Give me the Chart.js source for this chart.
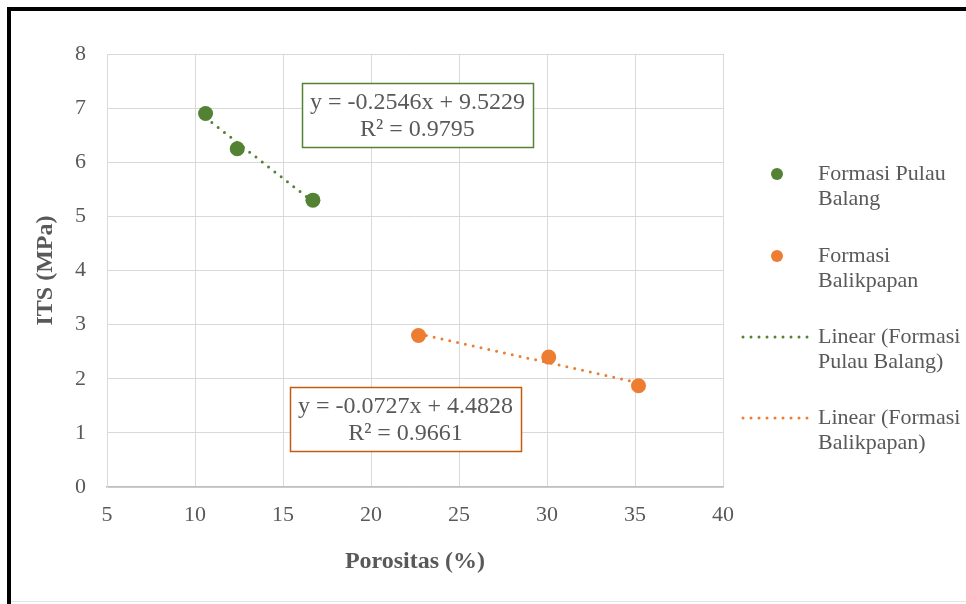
<!DOCTYPE html>
<html>
<head>
<meta charset="utf-8">
<title>ITS vs Porositas</title>
<script src="https://cdn.jsdelivr.net/npm/chart.js@4.4.1/dist/chart.umd.min.js"></script>
<style>
  html, body { margin: 0; padding: 0; background: #fff; }
  #wrap { position: relative; width: 966px; height: 604px; overflow: hidden; }
  #frame { position: absolute; left: 7px; top: 7px; width: 980px; height: 620px; border-left: 4px solid #000; border-top: 4px solid #000; }
  #base { position: absolute; left: 11px; right: 0; top: 601px; height: 1px; background: #e4e4e4; }
  canvas { position: absolute; left: 0; top: 0; }
</style>
</head>
<body>
<div id="wrap">
  <canvas id="itsChart" width="966" height="604"></canvas>
  <div id="frame"></div>
  <div id="base"></div>
</div>
<script>
// Data
const pulauBalangX = [10.6, 12.4, 16.7];
const pulauBalangY = [6.9, 6.25, 5.3];
const balikpapanX = [22.7, 30.1, 35.2];
const balikpapanY = [2.8, 2.4, 1.87];

const seriesNames = ['Formasi Pulau Balang', 'Formasi Balikpapan'];
const legendLines = [
  ['Formasi Pulau', 'Balang'],
  ['Formasi', 'Balikpapan'],
  ['Linear (Formasi', 'Pulau Balang)'],
  ['Linear (Formasi', 'Balikpapan)']
];

// Trendline equations as printed on the chart
const trendSlope = [-0.2546, -0.0727];
const trendIntercept = [9.5229, 4.4828];
const trendR2 = ['0.9795', '0.9661'];

const xTicks = [5, 10, 15, 20, 25, 30, 35, 40];
const yTicks = [0, 1, 2, 3, 4, 5, 6, 7, 8];

const GREEN = '#548235';
const ORANGE = '#ED7D31';
const TEXT = '#595959';
const FONT = "'Liberation Serif', 'Times New Roman', serif";

// two end points of a fitted line over the x range of its series
function trendPoints(xs, i) {
  const lo = Math.min(...xs), hi = Math.max(...xs);
  return [lo, hi].map(x => ({ x: x, y: trendSlope[i] * x + trendIntercept[i] }));
}

function equationText(i) {
  const sign = trendIntercept[i] < 0 ? '-' : '+';
  return ['y = ' + trendSlope[i].toFixed(4) + 'x ' + sign + ' ' + Math.abs(trendIntercept[i]).toFixed(4),
          'R\u00B2 = ' + trendR2[i]];
}

// Equation boxes, drawn in data space
const equationBoxes = {
  id: 'equationBoxes',
  boxes: [
    { series: 0, x: 22.64, y: 6.873, color: GREEN },
    { series: 1, x: 21.96, y: 1.256, color: '#C55A11' }
  ],
  afterDatasetsDraw(chart) {
    const ctx = chart.ctx;
    const sx = chart.scales.x, sy = chart.scales.y;
    ctx.save();
    this.boxes.forEach(b => {
      const cx = sx.getPixelForValue(b.x);
      const cy = sy.getPixelForValue(b.y);
      const w = 231, h = 64;
      ctx.fillStyle = '#fff';
      ctx.fillRect(cx - w / 2, cy - h / 2, w, h);
      ctx.strokeStyle = b.color;
      ctx.lineWidth = 1.5;
      ctx.strokeRect(Math.round(cx - w / 2) + 0.5, Math.round(cy - h / 2) + 0.5, w, h);
      ctx.fillStyle = TEXT;
      ctx.font = '24px ' + FONT;
      ctx.textAlign = 'center';
      ctx.textBaseline = 'middle';
      const lines = equationText(b.series);
      ctx.fillText(lines[0], cx, cy - 12);
      ctx.fillText(lines[1], cx, cy + 15);
    });
    ctx.restore();
  }
};

// Legend on the right, two lines per entry
const sideLegend = {
  id: 'sideLegend',
  afterDraw(chart) {
    const ctx = chart.ctx;
    const area = chart.chartArea;
    const markX = area.right + 54;
    const textX = area.right + 95;
    const rowY = [174, 256, 337, 418];
    ctx.save();
    chart.data.datasets.forEach((ds, i) => {
      const y = rowY[i];
      if (ds.type === 'line') {
        ctx.strokeStyle = ds.borderColor;
        ctx.lineWidth = ds.borderWidth;
        ctx.lineCap = 'round';
        ctx.setLineDash(ds.borderDash);
        ctx.beginPath();
        ctx.moveTo(markX - 34, y);
        ctx.lineTo(markX + 35, y);
        ctx.stroke();
        ctx.setLineDash([]);
      } else {
        ctx.fillStyle = ds.backgroundColor;
        ctx.beginPath();
        ctx.arc(markX, y, 6, 0, Math.PI * 2);
        ctx.fill();
      }
      ctx.fillStyle = TEXT;
      ctx.font = '22px ' + FONT;
      ctx.textAlign = 'left';
      ctx.textBaseline = 'middle';
      legendLines[i].forEach((t, k) => ctx.fillText(t, textX, y + k * 25));
    });
    ctx.restore();
  }
};

const ctx = document.getElementById('itsChart').getContext('2d');
new Chart(ctx, {
  type: 'scatter',
  data: {
    datasets: [
      {
        label: seriesNames[0],
        data: pulauBalangX.map((x, i) => ({ x: x, y: pulauBalangY[i] })),
        backgroundColor: GREEN,
        borderColor: GREEN,
        pointRadius: 7.5,
        borderWidth: 0,
        order: 1
      },
      {
        label: seriesNames[1],
        data: balikpapanX.map((x, i) => ({ x: x, y: balikpapanY[i] })),
        backgroundColor: ORANGE,
        borderColor: ORANGE,
        pointRadius: 7.5,
        borderWidth: 0,
        order: 1
      },
      {
        type: 'line',
        label: 'Linear (' + seriesNames[0] + ')',
        data: trendPoints(pulauBalangX, 0),
        borderColor: GREEN,
        borderWidth: 3,
        borderDash: [0, 8],
        borderCapStyle: 'round',
        pointRadius: 0,
        fill: false,
        order: 2
      },
      {
        type: 'line',
        label: 'Linear (' + seriesNames[1] + ')',
        data: trendPoints(balikpapanX, 1),
        borderColor: ORANGE,
        borderWidth: 3,
        borderDash: [0, 8],
        borderCapStyle: 'round',
        pointRadius: 0,
        fill: false,
        order: 2
      }
    ]
  },
  options: {
    responsive: false,
    animation: false,
    layout: {
      padding: { left: 20, top: 54, right: 243, bottom: 20 }
    },
    plugins: {
      legend: { display: false },
      tooltip: { enabled: false }
    },
    scales: {
      x: {
        type: 'linear',
        min: 5,
        max: 40,
        afterBuildTicks: s => { s.ticks = xTicks.map(v => ({ value: v })); },
        afterFit: s => { s.height = 97; },
        ticks: {
          color: TEXT,
          padding: 15,
          font: { family: FONT, size: 22 }
        },
        grid: { color: '#D9D9D9', drawTicks: false },
        border: { color: '#BFBFBF', width: 1.5 },
        title: {
          display: true,
          text: 'Porositas (%)',
          color: TEXT,
          padding: { top: 0, bottom: 8 },
          font: { family: FONT, size: 24, weight: 'bold' }
        }
      },
      y: {
        type: 'linear',
        min: 0,
        max: 8,
        afterBuildTicks: s => { s.ticks = yTicks.map(v => ({ value: v })); },
        afterFit: s => { s.width = 87; },
        ticks: {
          color: TEXT,
          padding: 21,
          font: { family: FONT, size: 22 }
        },
        grid: { color: '#D9D9D9', drawTicks: false },
        border: { color: '#D9D9D9' },
        title: {
          display: true,
          text: 'ITS (MPa)',
          color: TEXT,
          padding: { top: 11, bottom: 0 },
          font: { family: FONT, size: 24, weight: 'bold' }
        }
      }
    }
  },
  plugins: [equationBoxes, sideLegend]
});
</script>
</body>
</html>
